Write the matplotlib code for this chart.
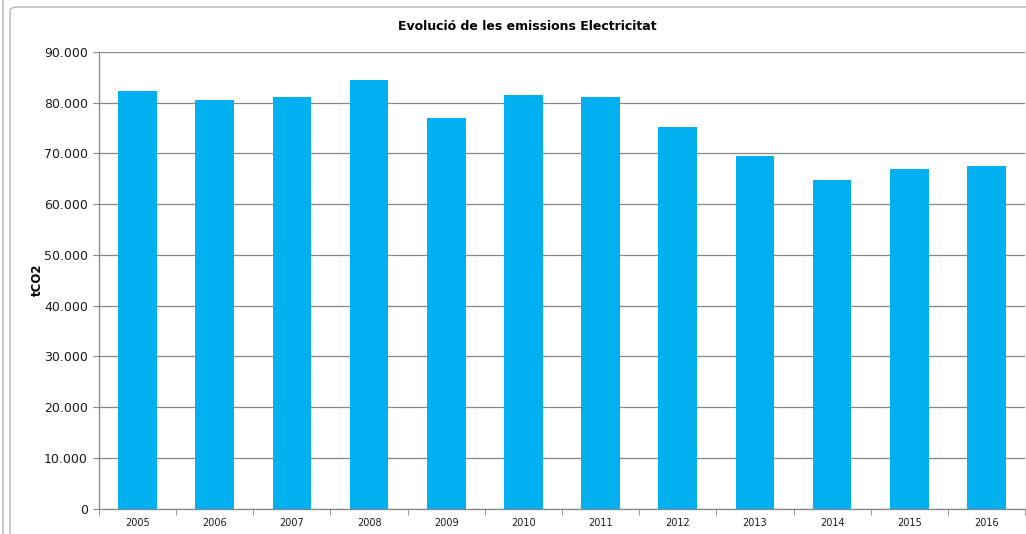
import matplotlib.pyplot as plt
from matplotlib.patches import FancyBboxPatch
from matplotlib.ticker import FuncFormatter

# data
years = ['2005', '2006', '2007', '2008', '2009', '2010',
         '2011', '2012', '2013', '2014', '2015', '2016']
emissions = [82300, 80500, 81100, 84500, 77000, 81500,
             81100, 75200, 69500, 64800, 66900, 67500]

fig = plt.figure(figsize=(10.26, 5.34), dpi=100)

# chart area border
border = FancyBboxPatch((10 / 1026, -0.05), 1.2, 1 - 7 / 534 + 0.05,
                        boxstyle="round,pad=0,rounding_size=0.008",
                        transform=fig.transFigure, fill=False,
                        edgecolor='#bfbfbf', linewidth=1.2)
fig.patches.append(border)
fig.add_artist(plt.Line2D([3 / 1026, 3 / 1026], [0, 1], transform=fig.transFigure,
                          color='#bfbfbf', linewidth=1.2))

ax = fig.add_axes([99 / 1026, 1 - 508.5 / 534, 926 / 1026, (508.5 - 52) / 534])

x = range(len(years))
ax.bar(x, emissions, width=0.5, color='#00B0F0', zorder=3)

ax.set_xlim(-0.5, len(years) - 0.5)
ax.set_ylim(0, 90000)
ax.set_yticks(range(0, 90001, 10000))
ax.yaxis.set_major_formatter(FuncFormatter(
    lambda v, p: '0' if v == 0 else f'{int(v):,}'.replace(',', '.')))
ax.set_xticks(list(x))
ax.set_xticklabels(years)
ax.set_xticks([i - 0.5 for i in range(len(years) + 1)], minor=True)

ax.grid(axis='y', color='#868686', linewidth=0.9, zorder=0)
for s in ['top', 'right']:
    ax.spines[s].set_visible(False)
for s in ['left', 'bottom']:
    ax.spines[s].set_color('#868686')
    ax.spines[s].set_linewidth(0.9)

ax.tick_params(axis='y', labelsize=9, length=4, color='#868686', pad=4,
               labelcolor='#1a1a1a')
ax.tick_params(axis='x', which='major', labelsize=7, length=0, pad=7,
               labelcolor='#1a1a1a')
ax.tick_params(axis='x', which='minor', length=4, color='#868686')

fig.text(37 / 1026, 1 - 280 / 534, 'tCO2', rotation=90, ha='center', va='center',
         fontsize=8.5, fontweight='bold')
fig.text(527 / 1026, 1 - 27 / 534, 'Evolució de les emissions Electricitat',
         ha='center', va='center', fontsize=9, fontweight='bold')

fig.savefig('out.png', dpi=100)
